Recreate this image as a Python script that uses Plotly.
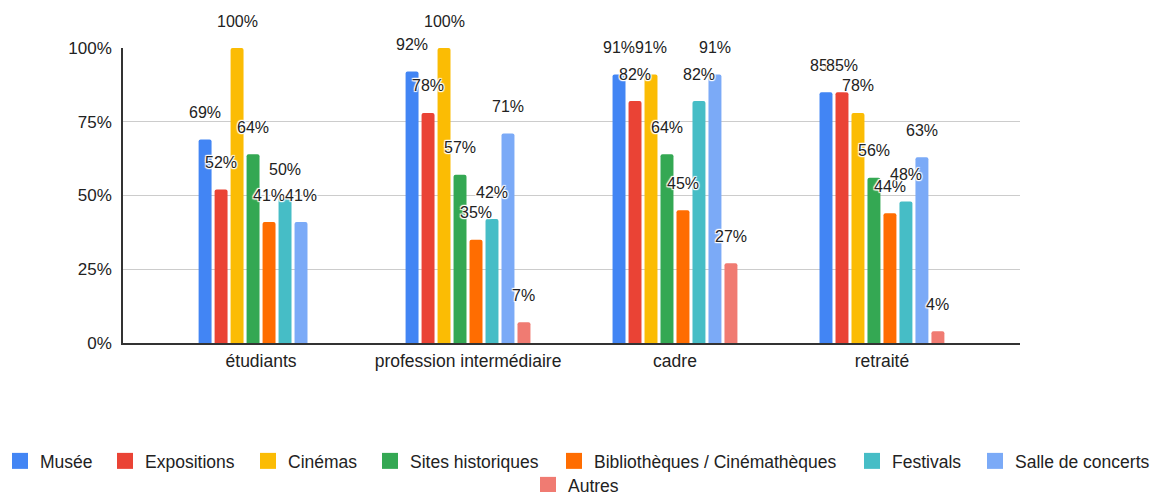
import plotly.graph_objects as go

categories = ["étudiants", "profession intermédiaire", "cadre", "retraité"]
series_names = ["Musée", "Expositions", "Cinémas", "Sites historiques",
                "Bibliothèques / Cinémathèques", "Festivals", "Salle de concerts", "Autres"]
colors = ["#4285F4", "#EA4335", "#FBBC04", "#34A853", "#FF6D01", "#46BDC6", "#7BAAF7", "#F07B72"]

musee = [69, 92, 91, 85]
expositions = [52, 78, 82, 85]
cinemas = [100, 100, 91, 78]
sites = [64, 57, 64, 56]
biblio = [41, 35, 45, 44]
festivals = [49.5, 42, 82, 48]
salle = [41, 71, 91, 63]
autres = [None, 7, 27, 4]

series_values = [musee, expositions, cinemas, sites, biblio, festivals, salle, autres]
y_ticks = [0, 25, 50, 75, 100]

# legend entry placement (left edge in px, top in px) - one small legend per entry
legend_pos = [(0, 443), (105, 443), (248, 443), (370, 443),
              (554, 443), (852, 443), (975, 443), (528, 467)]

BARGAP = 0.382
n = len(series_values)
slot = (1 - BARGAP) / n
W, H = 1155, 492

fig = go.Figure()
legend_layout = {}
for k, (name, vals, col) in enumerate(zip(series_names, series_values, colors)):
    lname = "legend" if k == 0 else f"legend{k + 1}"
    fig.add_trace(go.Bar(
        name=name, x=categories, y=vals, marker_color=col,
        marker_line_width=0, cliponaxis=False, showlegend=False,
        legendgroup=name,
    ))
    # legend-only entry with a larger square swatch
    fig.add_trace(go.Scatter(
        name=name, x=[None], y=[None], mode="markers",
        marker=dict(symbol="square", size=16, color=col, line_width=0),
        legend=lname, legendgroup=name, showlegend=True,
    ))
    lx, ly = legend_pos[k]
    legend_layout[lname] = dict(
        orientation="h", xanchor="left", yanchor="top",
        xref="container", yref="container",
        x=lx / W, y=1 - ly / H,
        font=dict(family="Arial", size=17.5, color="#222"),
        itemwidth=30, itemsizing="trace",
        bgcolor="rgba(0,0,0,0)", borderwidth=0,
    )

halo = ("1px 1px 1px white, -1px -1px 1px white, 1px -1px 1px white, "
        "-1px 1px 1px white, 0 1px 1px white, 0 -1px 1px white")
annotations = []
for j, vals in enumerate(series_values):
    for i, v in enumerate(vals):
        if v is None:
            continue
        annotations.append(dict(
            x=i - (1 - BARGAP) / 2 + (j + 0.5) * slot, y=v, xref="x", yref="y",
            text=f"{v:.0f}%", showarrow=False, yshift=27,
            font=dict(family="Arial", size=16, color="#222", shadow=halo),
        ))

fig.update_layout(
    width=W, height=H,
    margin=dict(l=123, r=135, t=48, b=149),
    paper_bgcolor="white", plot_bgcolor="white",
    barmode="group", bargap=BARGAP, bargroupgap=0.19, barcornerradius=2,
    font=dict(family="Arial", size=16, color="#222"),
    xaxis=dict(type="category", categoryorder="array", categoryarray=categories,
               range=[-0.667, 3.667], showgrid=False,
               tickfont=dict(size=17.5, color="#222"), ticks="",
               showline=True, linecolor="#333333", linewidth=1.5,
               ticklabelstandoff=1),
    yaxis=dict(range=[0, 100], tickvals=y_ticks,
               ticktext=[f"{t}%" for t in y_ticks], showgrid=True,
               gridcolor="#cccccc", gridwidth=1, zeroline=False,
               showline=True, linecolor="#333333", linewidth=1.5,
               ticks="", ticklabelstandoff=6,
               tickfont=dict(size=17, color="#222")),
    annotations=annotations,
    showlegend=True,
    **legend_layout,
)

fig.write_html("out.html", config={"displayModeBar": False},
               post_script="document.body.style.margin='0';document.body.style.overflow='hidden';")
